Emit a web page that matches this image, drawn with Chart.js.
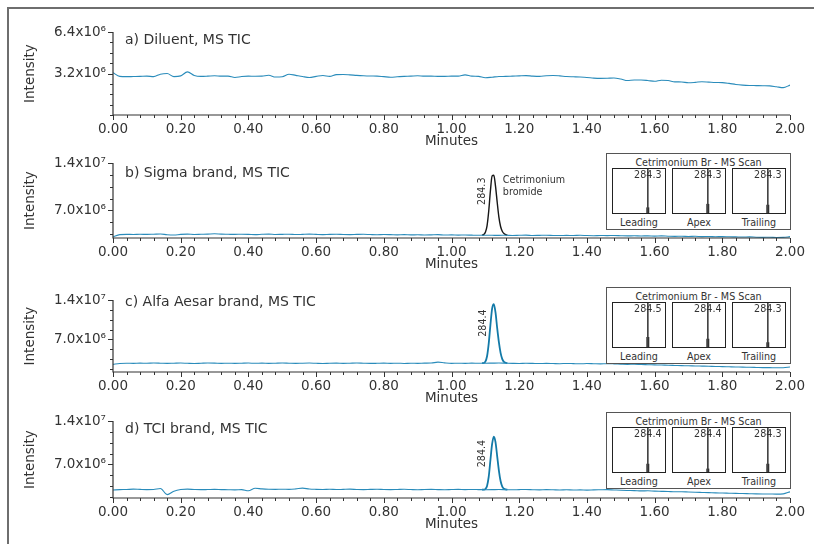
<!DOCTYPE html>
<html lang="en">
<head>
<meta charset="UTF-8">
<title>Cetrimonium bromide - MS TIC</title>
<script src="https://cdn.jsdelivr.net/npm/chart.js"></script>
<style>
  body { margin: 0; background: #fff; font-family: "DejaVu Sans", sans-serif; color: #333; }
  #page { position: relative; width: 814px; height: 544px; overflow: hidden; }
  #frame { position: absolute; left: 7px; top: 7px; width: 900px; height: 600px;
           border-left: 2px solid #6e6e6e; border-top: 2px solid #6e6e6e; }
  canvas.panel { position: absolute; left: 0; }
  .plabel { position: absolute; left: 125px; font-size: 14px; line-height: 16px; white-space: nowrap; }
  .inset { position: absolute; left: 606px; width: 185px; height: 77px; box-sizing: border-box;
           border: 1px solid #555; background: #fff; }
  .ititle { position: absolute; left: 0; right: 0; top: 3px; text-align: center; font-size: 9.6px; line-height: 12px; }
  .cell { position: absolute; width: 54px; height: 46px; box-sizing: border-box; border: 1px solid #222; background: #fff; }
  .cell canvas { display: block; }
  .clabel { position: absolute; width: 54px; text-align: center; font-size: 9.6px; line-height: 12px; }
</style>
</head>
<body>
<div id="page">
  <div id="frame"></div>
</div>
<script>
// retention time axis (minutes)
const times = [0.00,0.02,0.04,0.06,0.08,0.10,0.12,0.14,0.16,0.18,
               0.20,0.22,0.24,0.26,0.28,0.30,0.32,0.34,0.36,0.38,
               0.40,0.42,0.44,0.46,0.48,0.50,0.52,0.54,0.56,0.58,
               0.60,0.62,0.64,0.66,0.68,0.70,0.72,0.74,0.76,0.78,
               0.80,0.82,0.84,0.86,0.88,0.90,0.92,0.94,0.96,0.98,
               1.00,1.02,1.04,1.06,1.08,1.10,1.12,1.14,1.16,1.18,
               1.20,1.22,1.24,1.26,1.28,1.30,1.32,1.34,1.36,1.38,
               1.40,1.42,1.44,1.46,1.48,1.50,1.52,1.54,1.56,1.58,
               1.60,1.62,1.64,1.66,1.68,1.70,1.72,1.74,1.76,1.78,
               1.80,1.82,1.84,1.86,1.88,1.90,1.92,1.94,1.96,1.98,
               2.00];

// TIC traces, x10^6 counts
const ticA = [3.27,2.98,2.96,2.97,2.98,3.00,2.96,3.15,3.20,2.96,
              3.02,3.33,3.05,2.98,3.00,3.03,3.00,3.00,2.90,2.97,
              3.00,2.99,3.00,3.07,2.93,2.95,3.15,3.06,2.97,2.90,
              2.98,3.05,2.98,3.12,3.13,3.10,3.06,3.03,3.01,3.00,
              2.96,2.92,2.95,2.98,3.00,3.03,3.00,3.00,2.98,2.98,
              3.00,3.00,3.10,3.00,2.98,2.88,2.92,2.97,2.98,3.00,
              3.02,3.04,3.00,2.98,3.03,3.05,3.02,2.97,2.95,2.93,
              2.90,2.85,2.83,2.84,2.86,2.78,2.66,2.70,2.70,2.66,
              2.60,2.68,2.66,2.56,2.55,2.49,2.52,2.57,2.54,2.51,
              2.50,2.44,2.36,2.31,2.28,2.27,2.26,2.25,2.18,2.11,
              2.31];
const ticB = [3.05,3.40,3.44,3.42,3.45,3.43,3.46,3.50,3.38,3.34,
              3.44,3.47,3.42,3.45,3.48,3.52,3.47,3.45,3.43,3.46,
              3.44,3.40,3.45,3.48,3.42,3.44,3.46,3.41,3.44,3.47,
              3.43,3.40,3.44,3.46,3.42,3.40,3.43,3.45,3.41,3.38,
              3.42,3.40,3.37,3.40,3.36,3.38,3.35,3.37,3.40,3.34,
              3.36,3.33,3.35,3.32,3.30,3.31,3.30,3.29,3.31,3.28,
              3.30,3.32,3.27,3.29,3.31,3.28,3.26,3.29,3.27,3.30,
              3.26,3.24,3.27,3.25,3.28,3.24,3.21,3.23,3.20,3.22,
              3.18,3.21,3.17,3.14,3.16,3.12,3.15,3.11,3.13,3.09,
              3.11,3.08,3.06,3.04,3.06,3.02,3.00,3.01,2.97,2.99,
              3.10];
const ticC = [2.55,2.72,2.76,2.74,2.78,2.75,2.80,2.77,2.73,2.76,
              2.79,2.75,2.72,2.76,2.80,2.78,2.74,2.77,2.73,2.76,
              2.79,2.75,2.78,2.74,2.77,2.80,2.76,2.73,2.77,2.79,
              2.75,2.72,2.76,2.78,2.74,2.77,2.80,2.76,2.73,2.75,
              2.78,2.74,2.77,2.72,2.76,2.74,2.78,2.80,2.95,2.82,
              2.74,2.77,2.73,2.78,2.75,2.76,2.78,2.80,2.77,2.74,
              2.72,2.76,2.73,2.70,2.74,2.71,2.68,2.72,2.69,2.66,
              2.70,2.67,2.64,2.68,2.65,2.60,2.56,2.58,2.53,2.50,
              2.47,2.44,2.40,2.37,2.34,2.30,2.28,2.25,2.22,2.18,
              2.16,2.13,2.10,2.06,2.04,2.01,1.98,1.97,1.95,1.97,
              2.10];
const ticD = [2.85,2.90,2.93,2.98,2.94,2.91,2.93,3.10,2.10,2.65,
              2.92,2.98,2.93,2.90,2.92,2.94,2.91,2.89,2.86,2.90,
              2.72,3.12,3.02,2.96,2.94,2.97,2.95,3.02,3.15,3.00,
              2.95,2.93,2.96,2.92,2.95,2.98,2.93,2.90,2.94,2.97,
              2.92,2.90,2.93,2.96,2.92,2.89,2.93,2.95,2.91,2.88,
              2.92,2.95,2.90,2.93,2.91,2.89,2.90,2.92,2.90,2.88,
              2.91,2.93,2.89,2.86,2.90,2.88,2.85,2.88,2.84,2.87,
              2.83,2.86,2.88,2.90,2.85,2.80,2.77,2.75,2.70,2.72,
              2.66,2.63,2.60,2.55,2.57,2.52,2.48,2.45,2.42,2.38,
              2.36,2.33,2.30,2.28,2.25,2.22,2.20,2.19,2.18,2.22,
              2.55];

// cetrimonium peak, x10^6 counts
const peakTimes = [1.090,1.095,1.100,1.105,1.110,1.115,1.120,1.125,
                   1.130,1.135,1.140,1.145,1.150,1.155,1.160,1.165];
const peakB = [3.32,3.40,3.75,4.70,6.90,9.90,12.1,12.2,10.6,8.20,6.00,4.60,3.90,3.55,3.40,3.32];
const peakC = [2.77,2.80,3.05,4.00,6.30,9.60,12.5,13.3,11.8,9.00,6.50,4.60,3.50,3.00,2.85,2.78];
const peakD = [2.90,2.91,3.00,3.50,5.00,7.70,10.3,11.5,10.6,8.30,6.00,4.30,3.40,3.05,2.93,2.90];

const xTickValues = [0,0.2,0.4,0.6,0.8,1.0,1.2,1.4,1.6,1.8,2.0];
const xTickLabels = ['0.00','0.20','0.40','0.60','0.80','1.00','1.20','1.40','1.60','1.80','2.00'];
const yTicksA = [3.2, 6.4];
const yLabelsA = ['3.2x10⁶', '6.4x10⁶'];
const yTicksBCD = [7.0, 14.0];
const yLabelsBCD = ['7.0x10⁶', '1.4x10⁷'];

// MS scan insets: base peak m/z and small low-intensity stick (%)
const scanNames = ['Leading', 'Apex', 'Trailing'];
const scanMzB = [284.3, 284.3, 284.3];
const scanMzC = [284.5, 284.4, 284.3];
const scanMzD = [284.4, 284.4, 284.3];
const scanLowB = [12, 20, 18];
const scanLowC = [22, 18, 10];
const scanLowD = [18, 7, 18];

const FONT = '"DejaVu Sans", sans-serif';
Chart.defaults.font.family = FONT;
Chart.defaults.color = '#333';

const panels = [
  { top: 29,  bottom: 115,   yMin: 0,    yMax: 6.4, yMinor: 0.8,  ticks: yTicksA,   labels: yLabelsA,
    vals: ticA, title: 'a) Diluent, MS TIC', titleY: 39 },
  { top: 160, bottom: 237.7, yMin: 2.9,  yMax: 14,  yMinor: 1.75, ticks: yTicksBCD, labels: yLabelsBCD,
    vals: ticB, title: 'b) Sigma brand, MS TIC', titleY: 172,
    peak: peakB, peakColor: '#161616', peakWidth: 1.4, note: { dx: -11.5, dy: 16, name: true },
    inset: { top: 153, mz: scanMzB, low: scanLowB } },
  { top: 297, bottom: 372,   yMin: 1.2,  yMax: 14,  yMinor: 1.75, ticks: yTicksBCD, labels: yLabelsBCD,
    vals: ticC, title: 'c) Alfa Aesar brand, MS TIC', titleY: 301,
    peak: peakC, peakColor: '#137aa8', peakWidth: 1.8, note: { dx: -10.5, dy: 19 },
    inset: { top: 287, mz: scanMzC, low: scanLowC } },
  { top: 418, bottom: 498,   yMin: 1.55, yMax: 14,  yMinor: 1.75, ticks: yTicksBCD, labels: yLabelsBCD,
    vals: ticD, title: 'd) TCI brand, MS TIC', titleY: 428,
    peak: peakD, peakColor: '#137aa8', peakWidth: 1.8, note: { dx: -11, dy: 17 },
    inset: { top: 412, mz: scanMzD, low: scanLowD } }
];

// axis lines with major/minor tick marks
const axisTicks = {
  id: 'axisTicks',
  afterDraw(chart, args, opts) {
    const { ctx, chartArea: ca, scales: { x, y } } = chart;
    ctx.save();
    ctx.strokeStyle = '#333';
    ctx.lineWidth = 1.2;
    ctx.beginPath();
    ctx.moveTo(ca.left, ca.top);
    ctx.lineTo(ca.left, ca.bottom);
    ctx.lineTo(ca.right, ca.bottom);
    ctx.stroke();
    ctx.lineWidth = 1;
    ctx.beginPath();
    const nx = Math.round((x.max - x.min) / opts.xMinor);
    for (let i = 0; i <= nx; i++) {
      const px = Math.round(x.getPixelForValue(x.min + i * opts.xMinor)) + 0.5;
      const len = i % opts.xEvery === 0 ? 5 : 3;
      ctx.moveTo(px, ca.bottom);
      ctx.lineTo(px, ca.bottom + len);
    }
    const start = Math.ceil(y.min / opts.yMinor - 1e-6);
    const end = Math.floor(y.max / opts.yMinor + 1e-6);
    for (let i = start; i <= end; i++) {
      const v = i * opts.yMinor;
      const py = Math.round(y.getPixelForValue(v)) + 0.5;
      const major = opts.yMajor.some(m => Math.abs(m - v) < 1e-6);
      ctx.moveTo(ca.left, py);
      ctx.lineTo(ca.left - (major ? 5 : 3), py);
    }
    ctx.stroke();
    ctx.restore();
  }
};

// m/z label at the peak apex
const peakNote = {
  id: 'peakNote',
  afterDatasetsDraw(chart, args, opts) {
    if (!opts.text) return;
    const ds = chart.data.datasets[1].data;
    let apex = ds[0];
    ds.forEach(p => { if (p.y > apex.y) apex = p; });
    const { ctx, scales: { x, y } } = chart;
    const px = x.getPixelForValue(apex.x), py = y.getPixelForValue(apex.y);
    ctx.save();
    ctx.fillStyle = '#333';
    ctx.font = '9.6px ' + FONT;
    ctx.translate(px + opts.dx, py + opts.dy);
    ctx.rotate(-Math.PI / 2);
    ctx.textAlign = 'center';
    ctx.textBaseline = 'middle';
    ctx.fillText(opts.text, 0, 0);
    ctx.restore();
    if (opts.name) {
      ctx.save();
      ctx.fillStyle = '#333';
      ctx.font = '9.6px ' + FONT;
      ctx.textBaseline = 'middle';
      ctx.fillText('Cetrimonium', px + 9, py + 5);
      ctx.fillText('bromide', px + 9, py + 17);
      ctx.restore();
    }
  }
};

// m/z text over the stick in each MS scan box
const stickLabel = {
  id: 'stickLabel',
  afterDatasetsDraw(chart, args, opts) {
    const { ctx, scales: { x } } = chart;
    ctx.save();
    ctx.fillStyle = '#333';
    ctx.font = '9.6px ' + FONT;
    ctx.textAlign = 'center';
    ctx.textBaseline = 'middle';
    ctx.fillText(opts.mz.toFixed(1), x.getPixelForValue(opts.mz), 6);
    ctx.restore();
  }
};

const page = document.getElementById('page');
const PAD_TOP = 12, X_AXIS_H = 36, Y_AXIS_W = 113;

panels.forEach(p => {
  const cv = document.createElement('canvas');
  cv.className = 'panel';
  const h = PAD_TOP + (p.bottom - p.top) + X_AXIS_H;
  cv.width = 814;
  cv.height = Math.round(h);
  cv.style.top = (p.top - PAD_TOP) + 'px';
  page.appendChild(cv);

  const datasets = [{
    data: times.map((t, i) => ({ x: t, y: p.vals[i] })),
    borderColor: '#2a8cbb', borderWidth: 1.1, pointRadius: 0,
    cubicInterpolationMode: 'monotone', fill: false
  }];
  if (p.peak) {
    datasets.push({
      data: peakTimes.map((t, i) => ({ x: t, y: p.peak[i] })),
      borderColor: p.peakColor, borderWidth: p.peakWidth, pointRadius: 0,
      cubicInterpolationMode: 'monotone', fill: false
    });
  }

  new Chart(cv, {
    type: 'line',
    data: { datasets },
    plugins: [axisTicks, peakNote],
    options: {
      responsive: false, animation: false, events: [],
      layout: { padding: { top: PAD_TOP, left: 0, right: 24, bottom: 0 } },
      plugins: {
        legend: { display: false }, tooltip: { enabled: false },
        axisTicks: { xMinor: 0.04, xEvery: 5, yMinor: p.yMinor, yMajor: p.ticks },
        peakNote: p.peak ? { text: p.inset.mz[1].toFixed(1), dx: p.note.dx, dy: p.note.dy, name: !!p.note.name } : { text: '' }
      },
      scales: {
        x: {
          type: 'linear', min: 0, max: 2,
          grid: { display: false, drawTicks: false }, border: { display: false },
          afterBuildTicks: s => { s.ticks = xTickValues.map(v => ({ value: v })); },
          afterFit: s => { s.height = X_AXIS_H; },
          ticks: { autoSkip: false, maxRotation: 0, padding: 6, font: { size: 13.5 },
                   callback: (v, i) => xTickLabels[i] },
          title: { display: true, text: 'Minutes', font: { size: 13.5 }, padding: { top: 0, bottom: 1 } }
        },
        y: {
          type: 'linear', min: p.yMin, max: p.yMax,
          grid: { display: false, drawTicks: false }, border: { display: false },
          afterBuildTicks: s => { s.ticks = p.ticks.map(v => ({ value: v })); },
          afterFit: s => { s.width = Y_AXIS_W; },
          ticks: { padding: 7, font: { size: 13.5 }, callback: (v, i) => p.labels[i] },
          title: { display: true, text: 'Intensity', font: { size: 13.5 }, padding: { top: 22, bottom: 0 } }
        }
      }
    }
  });

  const lab = document.createElement('div');
  lab.className = 'plabel';
  lab.textContent = p.title;
  lab.style.top = (p.titleY - 8) + 'px';
  page.appendChild(lab);

  if (p.inset) buildInset(p.inset);
});

function buildInset(ins) {
  const box = document.createElement('div');
  box.className = 'inset';
  box.style.top = ins.top + 'px';
  box.innerHTML = '<div class="ititle">Cetrimonium Br - MS Scan</div>';
  page.appendChild(box);
  ins.mz.forEach((mz, i) => {
    const left = 612 + 60 * i;
    const cell = document.createElement('div');
    cell.className = 'cell';
    cell.style.left = left + 'px';
    cell.style.top = (ins.top + 15) + 'px';
    const cv = document.createElement('canvas');
    cv.width = 52; cv.height = 44;
    cell.appendChild(cv);
    page.appendChild(cell);
    const cap = document.createElement('div');
    cap.className = 'clabel';
    cap.textContent = scanNames[i];
    cap.style.left = left + 'px';
    cap.style.top = (ins.top + 64) + 'px';
    page.appendChild(cap);

    new Chart(cv, {
      type: 'bar',
      data: { datasets: [
        { data: [{ x: mz, y: 100 }], barThickness: 1, backgroundColor: '#444' },
        { data: [{ x: mz, y: ins.low[i] }], barThickness: 2.2, backgroundColor: '#111' }
      ] },
      plugins: [stickLabel],
      options: {
        responsive: false, animation: false, events: [],
        layout: { padding: 0 },
        datasets: { bar: { grouped: false } },
        plugins: { legend: { display: false }, tooltip: { enabled: false }, stickLabel: { mz } },
        scales: {
          x: { type: 'linear', min: 50, max: 400, offset: false, display: false },
          y: { min: 0, max: 100, display: false }
        }
      }
    });
  });
}
</script>
</body>
</html>
